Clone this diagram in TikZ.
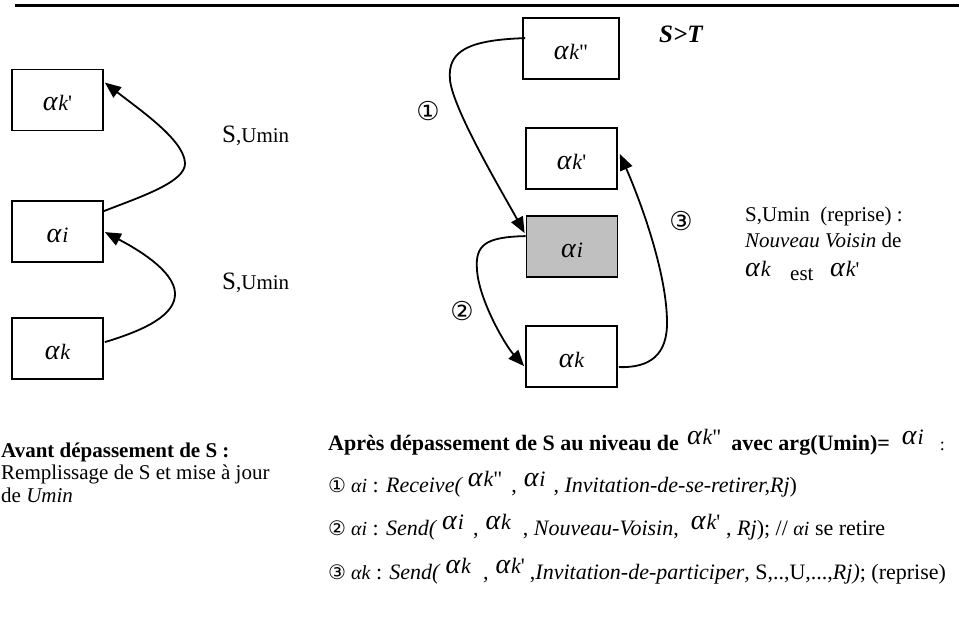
\documentclass[tikz,border=0pt]{standalone}
\usepackage{fontspec}
\setmainfont{Liberation Serif}[Ligatures=TeXOff]
\newfontfamily\circfont{DejaVu Sans}
\usetikzlibrary{arrows.meta,calc}
\definecolor{boxgray}{RGB}{192,192,192}
\newcommand{\fs}[1]{\fontsize{#1}{#1}\selectfont}
\newcommand{\alp}{{\fs{28}\mdseries\itshape α}}
\newcommand{\ga}[1]{\alp\hspace{1pt}{\fs{22}\mdseries\itshape #1}}
\newcommand{\ra}[1]{\raisebox{6pt}{#1}}
\begin{document}
\begin{tikzpicture}[x=1pt,y=-1pt,
  nbox/.style={draw,line width=1.8pt,minimum width=91pt,minimum height=61pt,inner sep=0pt,font=\fs{22},text height=22pt,text depth=0pt},
  conn/.style={line width=1.8pt,-{Triangle[length=16pt,width=13pt]}},
  txt/.style={anchor=base west,inner sep=0pt,font=\fs{21}},
  btxt/.style={anchor=base west,inner sep=0pt,font=\fs{22}},
  circ/.style={inner sep=0pt,font=\circfont\fs{26}}]
\useasboundingbox (0,0) rectangle (959,617);
\coordinate (rA) at (15,5.5);
\coordinate (rB) at (959,5.5);
\draw[line width=2.5pt] (rA) -- (rB);
% left boxes
\node[nbox] (Lkp) at (57.5,100) {\ga{k}'};
\node[nbox] (Li) at (57.5,231.5) {\ga{i}};
\node[nbox] (Lk) at (57.5,348.5) {\ga{k}};
% right boxes
\node[nbox,minimum width=96pt] (Rkpp) at (571,48.5) {\ga{k}"};
\node[nbox] (Rkp) at (571.5,158.5) {\ga{k}'};
\node[nbox,fill=boxgray] (Ri) at (572,246.5) {\ga{i}};
\node[nbox] (Rk) at (571.5,356.5) {\ga{k}};
% left connectors
\draw[conn] ($(Li.north east)+(0,11)$) .. controls (140,197) and (186,182) .. (185,163) .. controls (184,140) and (140,110) .. ($(Lkp.north east)+(1,14)$);
\draw[conn] ($(Lk.north east)+(1,25)$) .. controls (145,330) and (176,315) .. (175,293) .. controls (174,270) and (135,248) .. ($(Li.north east)+(1,32)$);
% right connectors
\draw[conn] ($(Rkpp.north west)+(3,21)$) .. controls (470,40) and (447,50) .. (450,80) .. controls (453,110) and (505,197) .. ($(Ri.north west)+(-1,18)$);
\draw[conn] ($(Ri.north west)+(0,21)$) .. controls (485,237) and (475,245) .. (477,270) .. controls (479,300) and (505,345) .. ($(Rk.north west)+(-1,41)$);
\draw[conn] ($(Rk.north east)+(1,42)$) .. controls (650,368) and (668,355) .. (667,320) .. controls (666,270) and (640,200) .. ($(Rkp.north east)+(2,27)$);
% labels
\node[txt] (sl1) at (222,143) {{\fs{25}S}{\fs{21},Umin}};
\node[txt] (sl2) at (222,290) {{\fs{25}S}{\fs{21},Umin}};
\node[circ] (c1) at (428,111) {①};
\node[circ] (c2) at (462,311) {②};
\node[circ] (c3) at (681,221) {③};
\node[txt,font=\fs{25}\bfseries\itshape] (st) at (659,43) {S>T};
\node[txt] (rp1) at (745,222) {S,Umin\ \ (reprise) :};
\node[txt] (rp2) at (745,248) {{\itshape Nouveau Voisin} de};
\node[txt] (rp3a) at (745,277) {\ga{k}};
\node[txt] (rp3b) at (790,281) {est};
\node[txt] (rp3c) at (830,277) {\ga{k}'};
% bottom left
\node[txt,font=\fs{21}\bfseries] (av1) at (1,457) {Avant dépassement de S :};
\node[txt] (av2) at (1,480) {Remplissage de S et mise à jour};
\node[txt] (av3) at (1,503) {de {\itshape Umin}};
% bottom right
\node[btxt,font=\fs{22}\bfseries] (ap) at (328,451) {Après dépassement de S au niveau de\hspace{8pt}\ra{\ga{k}{\mdseries\fs{22}"}}\hspace{10pt}avec arg(Umin)=\hspace{12pt}\ra{\ga{i}}\hspace{16pt}{\mdseries\fs{18}:}};
\node[btxt] (e1) at (328,493) {{\circfont\fs{20}①}\hspace{5pt}{\itshape\fs{20}αi} : {\itshape Receive(}\hspace{6pt}\ra{\ga{k}{\fs{22}"}}\hspace{9pt},\hspace{7pt}\ra{\ga{i}}\hspace{8pt}, {\itshape Invitation-de-se-retirer,Rj})};
\node[btxt] (e2) at (328,536) {{\circfont\fs{20}②}\hspace{5pt}{\itshape\fs{20}αi} : {\itshape Send(}\hspace{6pt}\ra{\ga{i}}\hspace{9pt},\hspace{7pt}\ra{\ga{k}}\hspace{12pt}, {\itshape Nouveau-Voisin},\hspace{12pt}\ra{\ga{k}{\fs{22}'}}\hspace{6pt}, {\itshape Rj}); // {\itshape\fs{20}αi} se retire};
\node[btxt] (e3) at (328,579) {{\circfont\fs{20}③}\hspace{5pt}{\itshape\fs{20}αk} : {\itshape Send(}\hspace{6pt}\ra{\ga{k}}\hspace{12pt},\hspace{7pt}\ra{\ga{k}{\fs{22}'}}\hspace{5pt},{\itshape Invitation-de-participer}, S,..,U,...,{\itshape Rj)}; (reprise)};
\end{tikzpicture}
\end{document}
